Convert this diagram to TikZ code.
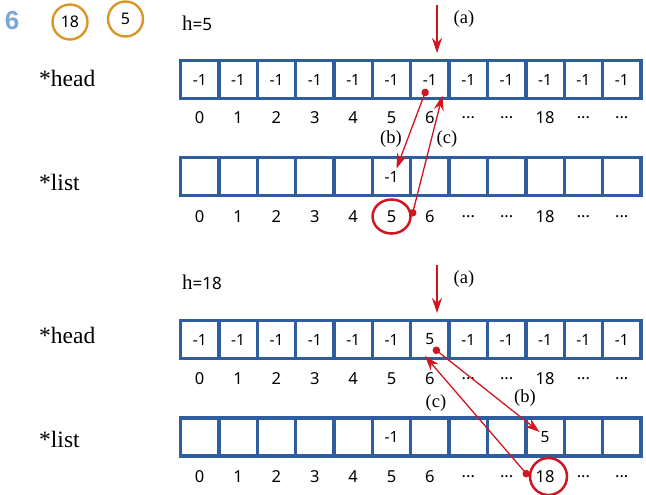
\documentclass[tikz,border=0pt]{standalone}
\usepackage{fontspec}
\setmainfont{Liberation Serif}
\newfontfamily\numfont{Noto Sans}
\newfontfamily\sixfont{Liberation Sans}
\usetikzlibrary{arrows.meta,calc,shapes.geometric}
\definecolor{cellblue}{RGB}{46,94,160}
\definecolor{arrred}{RGB}{208,22,32}
\definecolor{ringorange}{RGB}{218,150,40}
\definecolor{sixblue}{RGB}{122,166,216}
\newcommand\idxdots{...}
\begin{document}
\begin{tikzpicture}[x=1pt,y=-1pt,
  cell/.style={draw=cellblue,line width=3.4pt,minimum width=38.37pt,minimum height=38pt,
    inner sep=0pt,outer sep=0pt,font=\numfont\fontsize{15.5}{15.5}\selectfont},
  idx/.style={inner sep=0pt,font=\numfont\fontsize{16.5}{16.5}\selectfont},
  varlbl/.style={anchor=west,inner sep=0pt,font=\fontsize{23.5}{23.5}\selectfont},
  steplbl/.style={inner sep=0pt,font=\fontsize{18.5}{18.5}\selectfont},
  hlbl/.style={anchor=west,inner sep=0pt},
  ptr/.style={draw=arrred,line width=1.3pt,-{Stealth[length=15pt,width=10pt]}},
  dotptr/.style={draw=arrred,line width=1.3pt,{Circle[length=7.5pt]}-{Stealth[length=15pt,width=10pt]}},
  ring/.style={draw=ringorange,line width=2.4pt,circle,minimum size=35pt,inner sep=0pt,
    font=\numfont\fontsize{16}{16}\selectfont},
  redring/.style={draw=arrred,line width=2.5pt,ellipse,inner sep=0pt},
]
\useasboundingbox (0,0) rectangle (646,495);

% header
\node[inner sep=0pt,text=sixblue,font=\sixfont\bfseries\fontsize{26}{26}\selectfont] (six) at (12,21) {6};
\node[ring] (r18) at (70,22) {18};
\node[ring] (r5) at (125.5,19) {5};

% row labels
\node[hlbl] (h5) at (182,23) {\fontsize{21}{21}\selectfont h\numfont\fontsize{17}{17}\selectfont=5};
\node[hlbl] (h18) at (182,282) {\fontsize{21}{21}\selectfont h\numfont\fontsize{17}{17}\selectfont=18};
\node[varlbl] (headA) at (39,78) {*head};
\node[varlbl] (listA) at (39,182) {*list};
\node[varlbl] (headB) at (39,335) {*head};
\node[varlbl] (listB) at (39,439) {*list};

% arrays
\foreach \t [count=\i from 0] in {-1,-1,-1,-1,-1,-1,-1,-1,-1,-1,-1,-1}
  \node[cell] (ha\i) at ({199.7+38.37*\i},79.5) {\t};
\foreach \t [count=\i from 0] in {{},{},{},{},{},-1,{},{},{},{},{},{}}
  \node[cell] (la\i) at ({199.7+38.37*\i},176.5) {\raisebox{-6pt}{\t}};
\foreach \t [count=\i from 0] in {-1,-1,-1,-1,-1,-1,5,-1,-1,-1,-1,-1}
  \node[cell] (hb\i) at ({199.7+38.37*\i},339.5) {\t};
\foreach \t [count=\i from 0] in {{},{},{},{},{},-1,{},{},{},5,{},{}}
  \node[cell] (lb\i) at ({199.7+38.37*\i},437) {\raisebox{-2pt}{\t}};

% indices
\foreach \t [count=\i from 0] in {0,1,2,3,4,5,6,\idxdots,\idxdots,18,\idxdots,\idxdots} {
  \node[idx] (iha\i) at ($(ha\i.center)+(0,38.5)$) {\t};
  \node[idx] (ila\i) at ($(la\i.center)+(0,40)$) {\t};
  \node[idx] (ihb\i) at ($(hb\i.center)+(0,39)$) {\t};
  \node[idx] (ilb\i) at ($(lb\i.center)+(0,40)$) {\t};
}

% red rings
\node[redring,minimum width=38pt,minimum height=34pt] (ringA) at (ila5) {};
\node[redring,minimum width=37pt,minimum height=37pt] (ringB) at (548.5,476.5) {};

% step (a) arrows
\coordinate (aStartA) at (437,5);
\coordinate (aEndA) at (437,53);
\draw[ptr] (aStartA) -- (aEndA);
\node[steplbl] (laA) at (464,19) {(a)};
\coordinate (aStartB) at (437,265);
\coordinate (aEndB) at (437,313);
\draw[ptr] (aStartB) -- (aEndB);
\node[steplbl] (laB) at (464,279) {(a)};

% h=5 : (b) and (c)
\coordinate (bStartA) at ($(ha6.center)+(-3.5,9.5)$);
\coordinate (bEndA) at ($(la5.center)+(5,-8)$);
\draw[dotptr] (bStartA) -- (bEndA);
\node[steplbl] (lbA) at (391,139) {(b)};
\coordinate (cStartA) at (ringA.east);
\coordinate (cEndA) at ($(ha6.center)+(12.5,16)$);
\draw[dotptr] (cStartA) -- (cEndA);
\node[steplbl] (lcA) at (447,139) {(c)};

% h=18 : (b) and (c)
\coordinate (bStartB) at ($(hb6.center)+(3.5,8.5)$);
\coordinate (bEndB) at ($(lb9.center)+(-5.5,-5)$);
\draw[dotptr] (bStartB) -- (bEndB);
\node[steplbl] (lbB) at (525,398) {(b)};
\coordinate (cStartB) at (ringB.west);
\coordinate (cEndB) at ($(hb6.center)+(-5,16.5)$);
\draw[dotptr] (cStartB) -- (cEndB);
\node[steplbl] (lcB) at (436,403) {(c)};
\end{tikzpicture}
\end{document}
